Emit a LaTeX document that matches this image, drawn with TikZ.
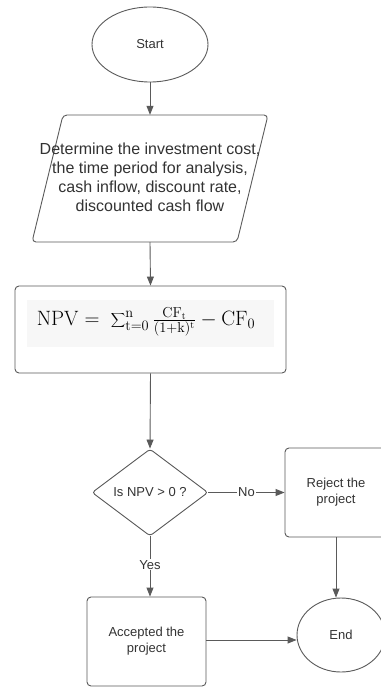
\documentclass[tikz,border=0pt]{standalone}
\usepackage[no-math]{fontspec}
\setmainfont{Liberation Sans}
\usetikzlibrary{shapes.geometric,arrows.meta,calc}
\definecolor{edge}{HTML}{5A5A5A}
\definecolor{txt}{HTML}{333333}
\begin{document}
\begin{tikzpicture}[x=1pt,y=-1pt,
  shapebox/.style={draw=edge,line width=0.9pt,text=txt,font=\fontsize{13}{16}\selectfont,align=center},
  procbox/.style={shapebox,rectangle,rounded corners=4pt,inner sep=0pt},
  termbox/.style={shapebox,ellipse,inner sep=0pt},
  flow/.style={draw=edge,line width=0.9pt,-{Triangle[width=7pt,length=9pt]}},
  lbl/.style={fill=white,text=txt,font=\fontsize{13}{16}\selectfont,inner sep=1pt}]
\useasboundingbox (0,0) rectangle (380,687);
\fill[white] (0,0) rectangle (380,687);
% start
\node[termbox,minimum width=116pt,minimum height=75pt] (start) at (150,44.5) {Start};
% parallelogram (input)
\node[minimum width=180pt,minimum height=127pt,inner sep=0pt] (par) at (150,178.5) {};
\draw[draw=edge,line width=0.9pt,rounded corners=4pt] (63,115) -- (268,115) -- (237,242) -- (32,242) -- cycle;
\node[text=txt,font=\fontsize{16}{19}\selectfont,align=center] (partext) at (150,177)
  {Determine the investment cost,\\the time period for analysis,\\cash inflow, discount rate,\\discounted cash flow};
% NPV formula box
\node[procbox,minimum width=271pt,minimum height=87pt] (npv) at (150.5,329.5) {};
\fill[black!3] (27,300) rectangle (274,347);
\node[text=black,font=\fontsize{20}{24}\selectfont] (formula) at (146,322)
  {$\mathrm{NPV} =\ {\displaystyle\sum\nolimits_{\mathrm{t}=0}^{\mathrm{n}}}\,\textstyle\frac{\mathrm{CF}_{\mathrm{t}}}{(1+\mathrm{k})^{\mathrm{t}}} - \mathrm{CF}_0$};
% decision
\node[shapebox,diamond,aspect=1.33,inner sep=0pt,rounded corners=3pt,minimum width=116pt,minimum height=87pt] (dec) at (150,492.5) {Is NPV > 0 ?};
% reject
\node[procbox,minimum width=102pt,minimum height=89pt] (reject) at (336,492.5) {Reject the\\project};
% accept
\node[procbox,minimum width=119pt,minimum height=89pt] (acc) at (146.5,641.5) {Accepted the\\project};
% end
\node[termbox,minimum width=88pt,minimum height=74pt] (end) at (341,635) {End};
% connectors
\draw[flow] (start.south) -- (par.north);
\draw[flow] (par.south) -- (npv.north);
\draw[flow] (npv.south) -- (dec.north);
\draw[flow] (dec.east) -- node[lbl] {No} (reject.west);
\draw[flow] (dec.south) -- node[lbl,pos=0.47] {Yes} (dec.south |- acc.north);
\draw[flow] (reject.south) -- (reject.south |- end.north);
\draw[flow] ([yshift=1.5pt]acc.east) -- ([yshift=1.5pt]acc.east -| end.west);
\end{tikzpicture}
\end{document}
